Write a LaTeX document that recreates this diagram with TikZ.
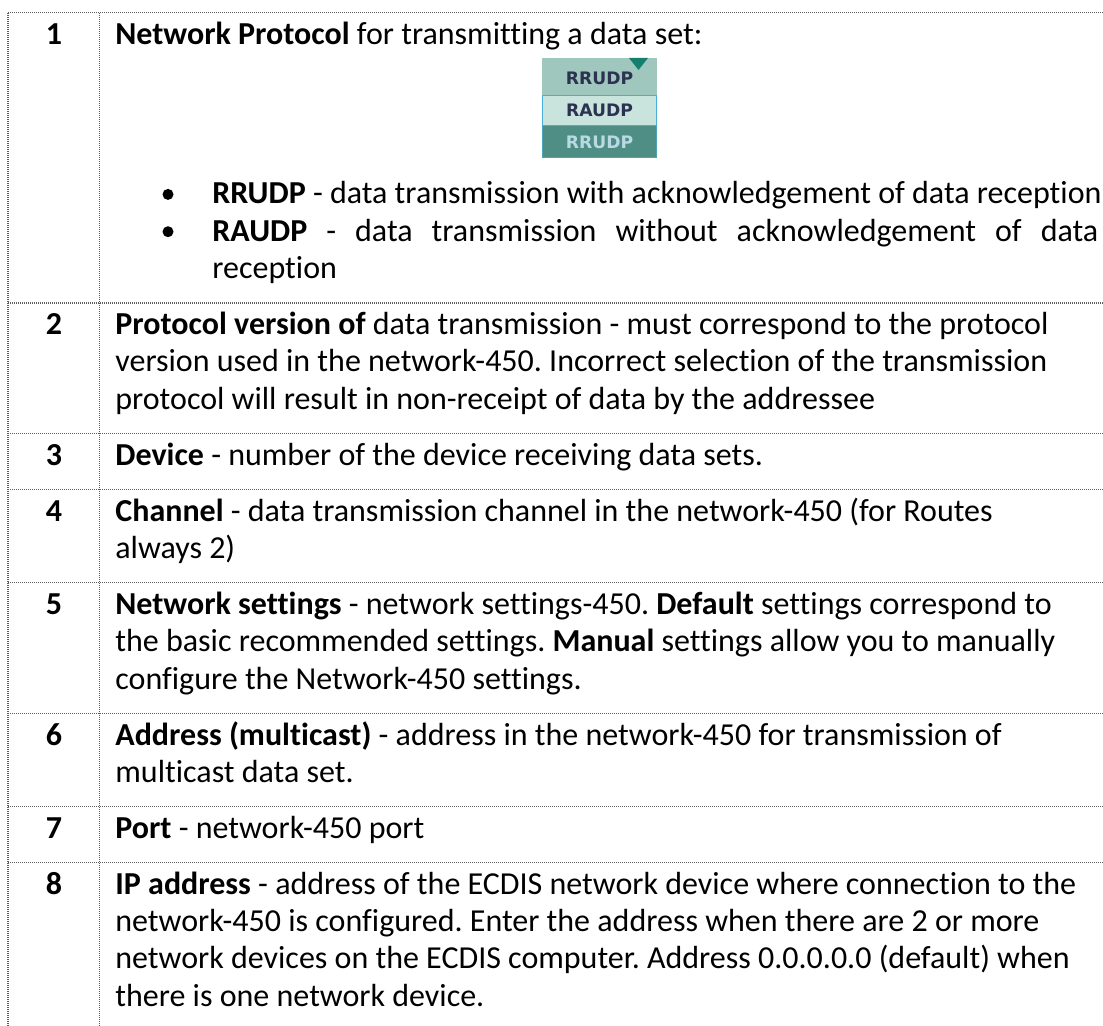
\documentclass[tikz,border=0pt]{standalone}
\usepackage{fontspec}
\setmainfont[Ligatures=NoCommon]{Carlito}
\newfontfamily\uifont{DejaVu Sans}
\newcommand\bodyfont{\fontsize{16pt}{19pt}\selectfont\frenchspacing}
\definecolor{rulegray}{HTML}{5E5E5E}
\definecolor{selA}{HTML}{9FC7BE}
\definecolor{selB}{HTML}{C9E4DD}
\definecolor{selC}{HTML}{4F8E84}
\definecolor{selEdge}{HTML}{4AAFD8}
\definecolor{selInk}{HTML}{2B3350}
\definecolor{selPale}{HTML}{B9D9E3}
\definecolor{selTri}{HTML}{13806F}
\begin{document}
\begin{tikzpicture}[x=0.5pt,y=-0.5pt,
  grid/.style={draw=rulegray,line width=0.55pt,dash pattern=on 0.5pt off 0.5pt},
  txt/.style={anchor=base west,inner sep=0pt,font=\bodyfont},
  num/.style={anchor=base,inner sep=0pt,font=\bodyfont\bfseries},
  bulletdot/.style={circle,fill=black,inner sep=0pt,minimum size=5.5pt},
  ui/.style={font=\uifont\bfseries\fontsize{8.6pt}{10pt}\selectfont,inner sep=0pt,anchor=center}]

\useasboundingbox (0,0) rectangle (1103,1026);

% table rules
\foreach \yy in {12.7,303,433.6,489.6,582.9,713.5,806.8,862.8}
  \draw[grid] (8,\yy) -- (1103,\yy);
\draw[grid] (8,12.7) -- (8,1026);
\draw[grid] (99.5,12.7) -- (99.5,1026);

% row numbers
\node[num] (n1) at (54,44.5)   {1};
\node[num] (n2) at (54,334.5)  {2};
\node[num] (n3) at (54,465.1)  {3};
\node[num] (n4) at (54,521.1)  {4};
\node[num] (n5) at (54,614.4)  {5};
\node[num] (n6) at (54,745)    {6};
\node[num] (n7) at (54,838.3)  {7};
\node[num] (n8) at (54,894.3)  {8};

% row 1
\node[txt] (r1a) at (115,44.5) {\textbf{Network Protocol} for transmitting a data set:};

% protocol drop-down list
\fill[selA] (542,58) rectangle (657,95);
\fill[selB] (542,95) rectangle (657,126);
\fill[selC] (542,126) rectangle (657,158);
\draw[selEdge!60!selC,line width=0.6pt] (542.5,126) -- (542.5,157.5) -- (656.5,157.5) -- (656.5,126);
\draw[selEdge,line width=0.6pt] (542.5,95.5) rectangle (656.5,125.5);
\fill[selTri] (629,58) -- (648,58) -- (638.5,70) -- cycle;
\node[ui,text=selInk]  (opt1) at (599.5,78)  {RRUDP};
\node[ui,text=selInk]  (opt2) at (599.5,110.5) {RAUDP};
\node[ui,text=selPale] (opt3) at (599.5,142) {RRUDP};

\node[bulletdot] (b1) at (168,194.4) {};
\node[bulletdot] (b2) at (168,231.7) {};
\node[txt] (r1b) at (212,203.9) {\textbf{RRUDP} - data transmission with acknowledgement of data reception};
\node[txt] (r1c) at (212,241.2) {\makebox[443pt][s]{\textbf{RAUDP} - data transmission without acknowledgement of data}};
\node[txt] (r1d) at (212,278.5) {reception};

% row 2
\node[txt] (r2a) at (115,334.5) {\textbf{Protocol version of} data transmission - must correspond to the protocol};
\node[txt] (r2b) at (115,371.8) {version used in the network-450. Incorrect selection of the transmission};
\node[txt] (r2c) at (115,409.1) {protocol will result in non-receipt of data by the addressee};

% row 3
\node[txt] (r3a) at (115,465.1) {\textbf{Device} - number of the device receiving data sets.};

% row 4
\node[txt] (r4a) at (115,521.1) {\textbf{Channel} - data transmission channel in the network-450 (for Routes};
\node[txt] (r4b) at (115,558.4) {always 2)};

% row 5
\node[txt] (r5a) at (115,614.4) {\textbf{Network settings} - network settings-450. \textbf{Default} settings correspond to};
\node[txt] (r5b) at (115,651.7) {the basic recommended settings. \textbf{Manual} settings allow you to manually};
\node[txt] (r5c) at (115,689.0) {configure the Network-450 settings.};

% row 6
\node[txt] (r6a) at (115,745) {\textbf{Address (multicast)} - address in the network-450 for transmission of};
\node[txt] (r6b) at (115,782.3) {multicast data set.};

% row 7
\node[txt] (r7a) at (115,838.3) {\textbf{Port} - network-450 port};

% row 8
\node[txt] (r8a) at (115,894.3) {\textbf{IP address} - address of the ECDIS network device where connection to the};
\node[txt] (r8b) at (115,931.6) {network-450 is configured. Enter the address when there are 2 or more};
\node[txt] (r8c) at (115,968.9) {network devices on the ECDIS computer. Address 0.0.0.0.0 (default) when};
\node[txt] (r8d) at (115,1006.2) {there is one network device.};
\end{tikzpicture}
\end{document}
